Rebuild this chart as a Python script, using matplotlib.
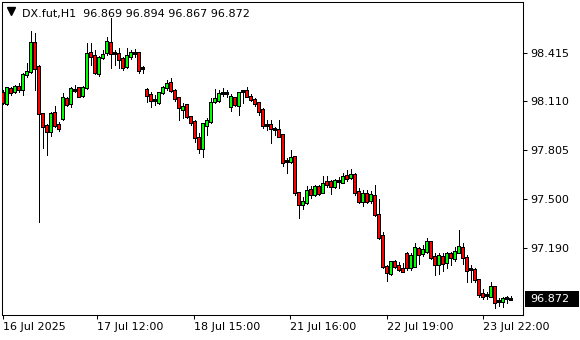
import matplotlib
matplotlib.use('Agg')
import matplotlib.pyplot as plt
import matplotlib.transforms as mtransforms
from matplotlib.patches import Rectangle
import numpy as np

symbol = 'DX.fut,H1'

# hourly OHLC, one entry per bar
opens = [
    98.163, 98.094, 98.188, 98.169, 98.200, 98.181, 98.275, 98.294, 98.476, 98.325,
    98.031, 97.956, 97.918, 98.037, 97.962, 98.000, 98.125, 98.094, 98.181, 98.194,
    98.144, 98.194, 98.413, 98.394, 98.282, 98.382, 98.413, 98.476, 98.407, 98.407,
    98.376, 98.325, 98.388, 98.413, 98.413, 98.319, 98.181, 98.150, 98.119, 98.100,
    98.163, 98.194, 98.225, 98.175, 98.131, 98.056, 98.088, 98.012, 97.981, 97.881,
    97.812, 97.956, 97.981, 98.106, 98.113, 98.156, 98.156, 98.075, 98.131, 98.081,
    98.169, 98.175, 98.138, 98.119, 98.100, 98.056, 97.956, 97.962, 97.931, 97.931,
    97.900, 97.731, 97.731, 97.762, 97.536, 97.461, 97.474, 97.555, 97.524, 97.574,
    97.536, 97.605, 97.605, 97.574, 97.605, 97.599, 97.643, 97.630, 97.649, 97.543,
    97.480, 97.530, 97.486, 97.518, 97.399, 97.267, 97.073, 97.029, 97.104, 97.079,
    97.061, 97.154, 97.067, 97.073, 97.186, 97.154, 97.167, 97.230, 97.136, 97.086,
    97.136, 97.098, 97.154, 97.123, 97.161, 97.192, 97.129, 97.054, 97.054, 96.992,
    96.904, 96.891, 96.885, 96.948, 96.854, 96.854, 96.873, 96.869]
highs = [
    98.181, 98.200, 98.200, 98.213, 98.225, 98.288, 98.351, 98.551, 98.538, 98.338,
    98.037, 97.969, 98.044, 98.081, 97.981, 98.163, 98.138, 98.200, 98.213, 98.200,
    98.206, 98.476, 98.476, 98.432, 98.394, 98.432, 98.513, 98.632, 98.432, 98.444,
    98.388, 98.444, 98.432, 98.438, 98.413, 98.332, 98.194, 98.169, 98.150, 98.169,
    98.206, 98.244, 98.257, 98.188, 98.138, 98.100, 98.088, 98.019, 97.994, 97.912,
    97.975, 98.006, 98.131, 98.188, 98.181, 98.194, 98.181, 98.156, 98.138, 98.163,
    98.181, 98.200, 98.156, 98.131, 98.106, 98.069, 97.994, 97.994, 97.950, 97.994,
    97.906, 97.756, 97.806, 97.762, 97.543, 97.511, 97.580, 97.580, 97.587, 97.587,
    97.643, 97.643, 97.618, 97.624, 97.637, 97.662, 97.681, 97.687, 97.662, 97.568,
    97.555, 97.555, 97.549, 97.587, 97.499, 97.292, 97.086, 97.111, 97.117, 97.104,
    97.098, 97.167, 97.161, 97.223, 97.198, 97.211, 97.255, 97.236, 97.161, 97.161,
    97.161, 97.167, 97.167, 97.198, 97.305, 97.223, 97.148, 97.086, 97.067, 96.998,
    96.935, 96.917, 96.979, 96.948, 96.879, 96.885, 96.891, 96.894]
lows = [
    98.094, 98.088, 98.150, 98.163, 98.169, 98.150, 98.263, 98.288, 98.181, 97.355,
    97.818, 97.774, 97.893, 97.950, 97.925, 97.994, 98.081, 98.075, 98.169, 98.138,
    98.138, 98.188, 98.338, 98.282, 98.269, 98.376, 98.401, 98.319, 98.338, 98.319,
    98.307, 98.319, 98.376, 98.388, 98.288, 98.288, 98.106, 98.075, 98.088, 98.094,
    98.156, 98.181, 98.169, 98.113, 97.994, 98.006, 98.006, 97.962, 97.856, 97.787,
    97.762, 97.900, 97.975, 98.100, 98.106, 98.144, 98.138, 98.050, 98.081, 98.025,
    98.100, 98.138, 98.113, 98.081, 98.025, 97.944, 97.931, 97.850, 97.900, 97.887,
    97.706, 97.662, 97.724, 97.524, 97.380, 97.436, 97.468, 97.505, 97.518, 97.524,
    97.536, 97.574, 97.530, 97.568, 97.568, 97.599, 97.612, 97.624, 97.524, 97.474,
    97.455, 97.474, 97.474, 97.392, 97.248, 97.067, 96.985, 97.023, 97.067, 97.048,
    97.042, 97.054, 97.054, 97.073, 97.092, 97.142, 97.161, 97.123, 97.023, 97.029,
    97.048, 97.067, 97.086, 97.111, 97.161, 97.092, 96.979, 96.979, 96.979, 96.885,
    96.873, 96.873, 96.885, 96.816, 96.829, 96.823, 96.848, 96.867]
closes = [
    98.100, 98.194, 98.163, 98.200, 98.181, 98.275, 98.294, 98.476, 98.313, 98.031,
    97.950, 97.918, 98.031, 97.956, 97.937, 98.131, 98.088, 98.188, 98.175, 98.138,
    98.194, 98.407, 98.388, 98.288, 98.382, 98.401, 98.482, 98.407, 98.405, 98.369,
    98.319, 98.394, 98.413, 98.407, 98.300, 98.313, 98.144, 98.113, 98.113, 98.163,
    98.194, 98.219, 98.175, 98.125, 98.069, 98.075, 98.012, 97.975, 97.881, 97.812,
    97.969, 97.987, 98.100, 98.125, 98.156, 98.154, 98.158, 98.138, 98.088, 98.163,
    98.167, 98.138, 98.119, 98.094, 98.044, 97.956, 97.954, 97.937, 97.929, 97.887,
    97.724, 97.729, 97.756, 97.536, 97.461, 97.480, 97.549, 97.524, 97.574, 97.530,
    97.593, 97.587, 97.574, 97.612, 97.603, 97.637, 97.624, 97.649, 97.536, 97.480,
    97.530, 97.480, 97.524, 97.399, 97.255, 97.073, 97.036, 97.104, 97.073, 97.054,
    97.042, 97.067, 97.142, 97.192, 97.148, 97.180, 97.230, 97.129, 97.086, 97.142,
    97.092, 97.154, 97.129, 97.167, 97.198, 97.129, 97.048, 97.052, 96.992, 96.898,
    96.885, 96.889, 96.948, 96.848, 96.852, 96.873, 96.871, 96.872]

xtick_labels = ['16 Jul 2025', '17 Jul 12:00', '18 Jul 15:00',
                '21 Jul 16:00', '22 Jul 19:00', '23 Jul 22:00']
xtick_bars = [0, 23.55, 47.7, 71.8, 95.9, 120.05]
yticks = [98.415, 98.110, 97.805, 97.500, 97.190]

plt.rcParams['font.family'] = 'DejaVu Sans'
plt.rcParams['font.size'] = 8

fig = plt.figure(figsize=(5.8, 3.4), dpi=100)
ax = fig.add_axes([2/580, 25/340, 521/580, 313/340])
ax.set_xlim(-0.25, 130.0)   # 4 px per bar, centres on pixel centres
ax.set_ylim(96.7725, 98.7325)

o = np.array(opens); h = np.array(highs); l = np.array(lows); c = np.array(closes)
x = np.arange(len(o))
up = c >= o
px = (98.7325 - 96.7725) / 313          # price per pixel
body_lo = np.minimum(o, c)
body_h = np.maximum(np.abs(c - o), px)

# wick, black body outline (3 px) and 1 px coloured core, drawn pixel-hard
ax.vlines(x, l, h, color='black', lw=0.6, zorder=1, antialiased=False)
ax.bar(x, body_h + px, bottom=body_lo - px / 2, width=0.68, color='black',
       linewidth=0, zorder=2, snap=False, antialiased=False)
inner_h = body_h - px
mask = inner_h > px * 0.8
ax.bar(x[mask], inner_h[mask], bottom=body_lo[mask] + px / 2, width=0.16,
       color=np.where(up[mask], '#00ff00', '#ff0000'), linewidth=0, zorder=3,
       snap=False, antialiased=False)

ax.yaxis.tick_right()
ax.set_yticks(yticks)
ax.set_yticklabels([f'{v:.3f}' for v in yticks])
ax.tick_params(axis='y', direction='out', length=3, width=0.75, pad=2, labelsize=8)
ax.set_xticks(xtick_bars)
ax.set_xticklabels(xtick_labels, ha='left')
ax.tick_params(axis='x', direction='out', length=3, width=0.75, pad=2, labelsize=8)
for sp in ax.spines.values():
    sp.set_color('black')
    sp.set_linewidth(0.75)

# header: triangle + symbol + OHLC of last bar
ax.plot([0.0173], [0.970], marker='v', ms=6, color='black', transform=ax.transAxes, clip_on=False)
header = f'{symbol}  {opens[-1]:.3f} {highs[-1]:.3f} {lows[-1]:.3f} {closes[-1]:.3f}'
fig.text(22/580, 1 - 17/340, header, va='baseline', fontsize=8, color='black')

# current price tag
tr = mtransforms.blended_transform_factory(ax.transAxes, ax.transData)
ax.add_patch(Rectangle((1.0038, closes[-1] - 0.05), 0.1036, 0.1, transform=tr,
                       facecolor='black', edgecolor='none', clip_on=False))
ax.text(1.0134, closes[-1], f'{closes[-1]:.3f}', transform=tr, color='white',
        va='center', ha='left', fontsize=8)

fig.savefig('out.png', dpi=100)
